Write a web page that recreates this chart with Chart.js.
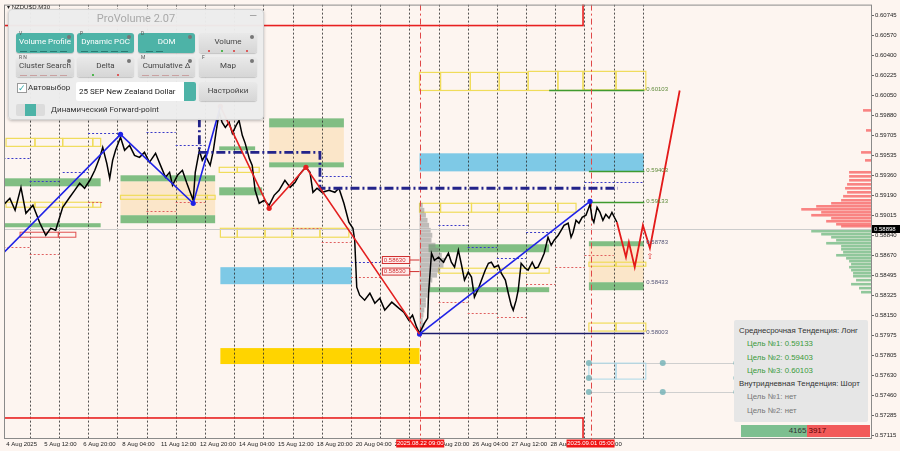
<!DOCTYPE html>
<html><head><meta charset="utf-8">
<script src="https://cdn.jsdelivr.net/npm/chart.js@4.4.1/dist/chart.umd.min.js"></script>
<style>
html,body{margin:0;padding:0;background:#fdf5f0;}
#wrap{position:relative;width:900px;height:451px;overflow:hidden;background:#fdf5f0;}
canvas{position:absolute;left:0;top:0;}
#pv{position:absolute;left:8px;top:9px;width:254px;height:109px;background:rgba(236,236,236,0.97);border:1px solid #d4d4d4;border-radius:4px;box-shadow:0 1px 3px rgba(0,0,0,0.25);font-family:Roboto,"Liberation Sans",sans-serif;}
#pv .ttl{position:absolute;left:0;right:0;top:2px;text-align:center;font-size:11px;color:#a9a9a9;}
#pv .min{position:absolute;right:6px;top:0px;color:#9a9a9a;font-size:10px;}
.btn{position:absolute;height:20px;border-radius:3px;background:linear-gradient(#e9e9e9,#d6d6d6);color:#444;font-size:8px;text-align:center;line-height:18px;box-shadow:0 1px 1px rgba(0,0,0,.18);}
.btn.on{background:#4db3a7;color:#fff;}
.btn .k{position:absolute;left:3px;top:-4px;font-size:5px;color:#555;line-height:8px;}
.btn .g{position:absolute;right:3px;top:2px;width:4px;height:4px;border-radius:50%;background:#777;}
.btn .ind{position:absolute;left:4px;right:4px;bottom:1px;height:1px;background:repeating-linear-gradient(90deg,#2b7a72 0 7px,transparent 7px 10px);}
.btn .ind.gr{background:repeating-linear-gradient(90deg,#c9a0a0 0 7px,transparent 7px 10px);}
.btn .dots{position:absolute;left:4px;right:4px;bottom:1px;height:2px;display:flex;justify-content:space-around;}
.btn .dots i{width:2px;height:2px;border-radius:1px;background:#d33;}
.btn .dots i.gn{background:#2a2;}
#pv .chk{position:absolute;left:8px;top:73px;width:8px;height:8px;border:1px solid #999;background:#fff;font-size:9px;line-height:8px;color:#3aa;}
#pv .lbl{position:absolute;font-size:8px;color:#333;}
#pv .dd{position:absolute;left:67px;top:72px;width:120px;height:19px;background:#fff;border-radius:2px;font-size:8px;line-height:19px;color:#222;padding-left:3px;box-sizing:border-box;}
#pv .dd .sp{position:absolute;right:0;top:0;width:12px;height:19px;background:#4db3a7;border-radius:0 2px 2px 0;}
#pv .tg{position:absolute;left:7px;top:94px;width:29px;height:12px;border-radius:2px;background:linear-gradient(90deg,#dcdcdc 0 9px,#4db3a7 9px 20px,#dcdcdc 20px);}
#info{position:absolute;left:734px;top:320px;width:134px;height:102px;background:#e6e6e6;border-radius:2px;font-family:"Liberation Sans",Arial,sans-serif;font-size:7.8px;padding-top:4px;box-sizing:border-box;}
#info div{height:13.3px;line-height:13.3px;white-space:nowrap;}
#info .h{color:#333;padding-left:5px;}
#info .gl{color:#3a9a3a;padding-left:13px;}
#info .nl{color:#777;padding-left:13px;}
#vb{position:absolute;left:741px;top:425px;width:129px;height:12px;font-family:"Liberation Sans",Arial,sans-serif;font-size:8px;line-height:12px;display:flex;}
#vb .b{background:#7dbf90;color:#333;text-align:right;padding-right:1px;box-sizing:border-box;}
#vb .s{background:#f25a5a;color:#5a0000;text-align:left;padding-left:1px;box-sizing:border-box;}
</style></head>
<body>
<div id="wrap">
<canvas id="c" width="900" height="451"></canvas>
<div id="pv">
  <div class="ttl">ProVolume 2.07</div><div class="min">—</div>
  <div class="btn on" style="left:7px;top:23px;width:58px">Volume Profile<span class="k">V</span><span class="g"></span><i class="ind"></i></div>
  <div class="btn on" style="left:68px;top:23px;width:57px">Dynamic POC<span class="k">P</span><span class="g"></span><i class="ind"></i></div>
  <div class="btn on" style="left:129px;top:23px;width:57px">DOM<span class="k">D</span><span class="g"></span><i class="ind" style="left:8px;right:30px"></i></div>
  <div class="btn" style="left:190px;top:23px;width:58px">Volume<span class="g"></span><span class="dots"><i></i><i class="gn"></i><i></i><i></i></span></div>
  <div class="btn" style="left:7px;top:47px;width:58px">Cluster Search<span class="k">R N</span><span class="g"></span><i class="ind gr"></i></div>
  <div class="btn" style="left:68px;top:47px;width:57px">Delta<span class="g"></span><span class="dots"><i class="gn"></i><i></i></span></div>
  <div class="btn" style="left:129px;top:47px;width:57px">Cumulative Δ<span class="k">M</span><span class="g"></span><i class="ind gr"></i></div>
  <div class="btn" style="left:190px;top:47px;width:58px">Map<span class="k">F</span><span class="g"></span></div>
  <div class="chk">✓</div><div class="lbl" style="left:19px;top:73px">Автовыбор</div>
  <div class="dd">25 SEP New Zealand Dollar<span class="sp"></span></div>
  <div class="btn" style="left:190px;top:72px;width:58px;height:19px">Настройки</div>
  <div class="tg"></div><div class="lbl" style="left:42px;top:95px">Динамический Forward-point</div>
</div>
<div id="info"></div>
<div id="vb"></div>
</div>
<script>
// ---------- DATA ----------
const xTickDays = [0.2, 1.5, 2.833, 4.167, 5.5, 6.833, 8.167, 9.5, 10.833, 12.167, 13.5, 14.833, 16.167, 17.5, 18.833, 20.167];
const xTickLabels = ['4 Aug 2025','5 Aug 12:00','6 Aug 20:00','8 Aug 04:00','11 Aug 12:00','12 Aug 20:00','14 Aug 04:00','15 Aug 12:00','18 Aug 20:00','20 Aug 04:00','21 Aug 12:00','22 Aug 20:00','26 Aug 04:00','27 Aug 12:00','28 Aug 20:00','1 Sep 04:00'];
const yTickValues = [0.60745,0.60570,0.60400,0.60225,0.60050,0.59880,0.59705,0.59535,0.59360,0.59190,0.59015,0.58840,0.58670,0.58495,0.58325,0.58150,0.57975,0.57805,0.57630,0.57460,0.57285,0.57115];
const daySeparators = [1,2,3,4,5,6,7,8,9,10,11,12,13,14,15,16,17,18,19,20,21,22];
const markerDays = [14.375, 20.208];
const markerLabels = ['2025.08.22 09:00','2025.09.01 05:00'];
const currentPrice = 0.58898;

const priceDay = [0.09,0.32,0.50,0.70,0.87,1.11,1.35,1.55,1.72,1.89,
2.13,2.37,2.54,2.71,2.88,3.06,3.23,3.40,3.50,3.64,
3.74,3.84,3.94,4.11,4.25,4.42,4.59,4.76,4.93,5.10,
5.31,5.48,5.65,5.79,5.89,6.06,6.23,6.37,6.47,6.60,
6.67,6.81,6.91,7.01,7.18,7.29,7.39,7.49,7.59,7.70,
7.83,7.94,8.07,8.17,8.28,8.38,8.52,8.62,8.72,8.86,
9.03,9.20,9.37,9.54,9.74,9.92,10.09,10.22,10.36,10.46,
10.60,10.70,10.84,11.01,11.25,11.45,11.59,11.76,11.93,12.07,
12.13,12.20,12.30,12.47,12.65,12.82,12.99,13.16,13.40,13.64,
13.81,13.98,14.11,14.25,14.35,14.52,14.63,14.66,14.76,14.86,
15.00,15.17,15.34,15.44,15.55,15.68,15.79,15.89,16.02,16.13,
16.23,16.37,16.47,16.60,16.71,16.81,16.91,17.05,17.15,17.29,
17.39,17.49,17.56,17.66,17.73,17.83,17.97,18.07,18.21,18.31,
18.41,18.52,18.62,18.75,18.86,18.96,19.10,19.20,19.30,19.44,
19.54,19.61,19.71,19.81,19.92,20.05,20.19,20.26,20.32,20.43,
20.53,20.63,20.73,20.84,20.94,21.04,21.11];
const priceClose = [0.59103,0.59163,0.59060,0.59258,0.59034,0.59103,0.58948,0.58844,0.58904,0.58887,
0.59086,0.59172,0.59232,0.59293,0.59250,0.59319,0.59405,0.59517,0.59603,0.59465,
0.59336,0.59491,0.59578,0.59690,0.59578,0.59621,0.59534,0.59517,0.59560,0.59474,
0.59552,0.59448,0.59345,0.59388,0.59276,0.59362,0.59405,0.59301,0.59232,0.59146,
0.59388,0.59578,0.59491,0.59534,0.59448,0.59578,0.59750,0.59905,0.59819,0.59776,
0.59819,0.59724,0.59793,0.59836,0.59707,0.59638,0.59508,0.59448,0.59232,0.59120,
0.59146,0.59103,0.59189,0.59232,0.59319,0.59258,0.59301,0.59362,0.59405,0.59431,
0.59388,0.59215,0.59250,0.59215,0.59232,0.59215,0.59250,0.59120,0.58956,0.58904,
0.58801,0.58395,0.58326,0.58283,0.58343,0.58257,0.58300,0.58197,0.58266,0.58214,
0.58179,0.58110,0.58154,0.58050,0.57998,0.58085,0.58128,0.58343,0.58689,0.58628,
0.58654,0.58611,0.58689,0.58611,0.58568,0.58715,0.58585,0.58456,0.58525,0.58482,
0.58309,0.58387,0.58456,0.58542,0.58602,0.58611,0.58568,0.58585,0.58516,0.58456,
0.58343,0.58240,0.58197,0.58283,0.58369,0.58602,0.58559,0.58542,0.58611,0.58559,
0.58568,0.58628,0.58689,0.58827,0.58758,0.58801,0.58844,0.58887,0.58930,0.58948,
0.58827,0.58870,0.58973,0.58948,0.58999,0.59017,0.59112,0.58991,0.58956,0.59086,
0.59042,0.58973,0.59025,0.58991,0.59042,0.58991,0.58956];

const zzDaysA = [0.09, 4.11, 6.60, 7.53];
const zzPricesA = [0.58689, 0.59716, 0.59120, 0.59957];
const zzDaysB = [7.53, 9.20, 10.46, 14.35];
const zzPricesB = [0.59957, 0.59077, 0.59431, 0.57990];
const zzDaysC = [14.35, 20.19];
const zzPricesC = [0.57990, 0.59137];
const projDays = [21.11, 21.42, 21.52, 21.72, 22.00, 22.24, 23.26];
const projPrices = [0.58956, 0.58654, 0.58784, 0.58568, 0.58930, 0.58732, 0.60095];
const navyDays = [6.81, 6.81, 10.94, 10.94, 21.14];
const navyPrices = [0.59854, 0.59560, 0.59560, 0.59250, 0.59250];

// zones: [dayStart, dayEnd, priceTop, priceBottom]
const greenZones = [[-0.5,3.43,0.59336,0.59267],[-0.5,3.43,0.58948,0.58913],[4.11,7.35,0.59362,0.59310],[4.11,7.35,0.59017,0.58948],
[7.49,8.96,0.59258,0.59189],[7.49,8.72,0.59612,0.59578],[9.2,11.76,0.59854,0.59776],[9.2,11.76,0.59474,0.59431],
[14.66,18.79,0.58766,0.58697],[14.66,18.79,0.58395,0.58352],[20.15,22.03,0.58792,0.58749],[20.15,22.03,0.58438,0.58369]];
const peachZones = [[4.11,7.35,0.59310,0.59017],[9.2,11.76,0.59776,0.59474],[20.15,22.03,0.58749,0.58438]];
const blueZones = [[7.53,12.03,0.58568,0.58421],[14.35,22.03,0.59552,0.59396]];
const goldZones = [[7.53,14.35,0.57869,0.57731]];
const yellowBoxes = [
[0.19,1.18,0.59681,0.59612],[1.18,2.13,0.59681,0.59612],[2.13,3.16,0.59681,0.59612],[3.16,3.43,0.59681,0.59612],
[0.19,1.18,0.59129,0.59086],[1.18,2.13,0.59129,0.59086],[2.13,3.16,0.59129,0.59086],[3.16,3.43,0.59129,0.59086],
[4.11,6.06,0.59189,0.59155],[6.06,7.08,0.59189,0.59155],[7.08,7.35,0.59189,0.59155],
[7.49,8.11,0.59431,0.59387],[8.11,8.86,0.59431,0.59387],
[7.53,8.11,0.58904,0.58827],[8.11,9.06,0.58904,0.58827],[9.06,9.98,0.58904,0.58827],[9.98,10.94,0.58904,0.58827],[10.94,11.93,0.58904,0.58827],
[14.35,15.07,0.60251,0.60095],[15.07,16.09,0.60251,0.60095],[16.09,17.08,0.60251,0.60095],[17.08,18.07,0.60251,0.60095],[18.07,19.09,0.60260,0.60095],[19.09,19.95,0.60260,0.60095],[19.95,21.08,0.60260,0.60100],[21.08,22.1,0.60260,0.60100],
[14.35,15.07,0.59120,0.59043],[15.07,16.13,0.59120,0.59043],[16.13,17.08,0.59120,0.59043],[17.08,18.07,0.59120,0.59043],[18.07,19.09,0.59120,0.59043],[19.09,19.71,0.59120,0.59043],
[15.0,18.79,0.58559,0.58516],
[20.15,21.08,0.58611,0.58576],[21.08,22.1,0.58611,0.58576],
[20.15,21.08,0.58085,0.58016],[21.08,22.1,0.58085,0.58016]];
const redBoxes = [[0.67,1.98,0.58870,0.58827],[1.98,2.58,0.58870,0.58827]];
// short dashed levels: [dayStart, dayEnd, price]
const blueDash = [[0.1,1,0.59508],[1,2,0.59310],[2.13,3,0.59388],[3,4,0.59724],[5,6,0.59733],[6,7,0.59621],[11,12,0.59353],[12,13,0.58611],[15,16,0.58930],[16,17,0.58740],[17,18,0.58645],[18,19,0.58870],[20,22,0.59301]];
const redDash = [[0.1,1,0.58740],[1,2,0.58680],[3,3.5,0.59129],[5,6,0.59051],[6,7,0.59129],[10,11,0.58904],[11,12,0.58784],[12,13,0.58482],[15,16,0.58266],[16,17,0.58171],[17,18,0.58136],[18,19,0.58421],[19,20,0.58568],[20,21,0.58672]];
// red frame rectangles [dayStart, dayEnd, priceTop, priceBottom]
const frameRects = [[-1,19.95,0.6100,0.60656],[-1,19.95,0.57265,0.5600]];
// target levels
const targetLevels = [0.60103, 0.59403, 0.59133, 0.58783, 0.58433, 0.58003];
const targetLineStart = [18.79, 20.15, 20.15, null, null, 14.35];
const targetEndDay = 22.05;
const redTagPrices = [0.58630, 0.58530];
const redTagDays = [13.06, 14.0];
// volume profile (gray, at 22 Aug)
const vpStartDay = 14.35;
const vpPrice = [0.59103,0.59060,0.59017,0.58973,0.58930,0.58887,0.58844,0.58801,0.58758,0.58715,0.58671,0.58628,0.58585,0.58542,0.58499,0.58456,0.58412,0.58369,0.58326,0.58283,0.58240,0.58197,0.58154,0.58110,0.58067,0.58024];
const vpVol = [4,6,8,10,12,14,16,15,20,24,28,32,30,26,22,16,14,12,10,8,8,6,5,4,6,4];
// DOM (right edge)
const domAskPrice = [0.59923,0.59750,0.59560,0.59491,0.59388,0.59353,0.59319,0.59284,0.59250,0.59215,0.59181,0.59146,0.59120,0.59094,0.59068,0.59042,0.59017,0.58991,0.58965,0.58939,0.58922];
const domAskVol = [8,5,10,6,22,22,22,24,26,24,28,30,40,55,70,50,60,40,45,35,30];
const domBidPrice = [0.58879,0.58853,0.58827,0.58801,0.58775,0.58749,0.58723,0.58697,0.58671,0.58645,0.58620,0.58594,0.58568,0.58542,0.58516,0.58490,0.58456,0.58421,0.58387,0.58352];
const domBidVol = [60,50,40,35,45,30,30,28,35,25,22,20,22,20,18,18,15,20,12,10];
// cluster markers
const clusterPrices = [0.57739, 0.57489];
const clusterMid = 0.57610;
const clusterDays = [20.15, 22.68, 25.2];
const clusterBoxes = [[20.15,21.08,0.57739,0.57601],[21.08,22.1,0.57739,0.57601]];
const arrowDay = 22.24, arrowPrice = 0.58654;
// info panel
const longTargets = [0.59133, 0.59403, 0.60103];
const buyVolume = 4165, sellVolume = 3917;

// ---------- INFO PANEL ----------
(function(){
  const info = document.getElementById('info');
  let h = '<div class="h">Среднесрочная Тенденция: Лонг</div>';
  longTargets.forEach((t,i)=>{ h += '<div class="gl">Цель №'+(i+1)+': '+t.toFixed(5)+'</div>'; });
  h += '<div class="h">Внутридневная Тенденция: Шорт</div>';
  h += '<div class="nl">Цель №1: нет</div><div class="nl">Цель №2: нет</div>';
  info.innerHTML = h;
  const vb = document.getElementById('vb');
  const tot = buyVolume + sellVolume;
  vb.innerHTML = '<div class="b" style="width:'+(buyVolume/tot*100)+'%">'+buyVolume+'</div><div class="s" style="width:'+(sellVolume/tot*100)+'%">'+sellVolume+'</div>';
})();

// ---------- CHART ----------
const pts = (ds, ps) => ds.map((d,i)=>({x:d, y:ps[i]}));
const AX_FONT = {family:'"Liberation Sans", Arial, sans-serif', size:6};

const overlay = {
  id:'overlay',
  beforeDatasetsDraw(chart){
    const {ctx, chartArea:a, scales:{x,y}} = chart;
    const X = v => x.getPixelForValue(v), Y = v => y.getPixelForValue(v);
    ctx.save();
    ctx.beginPath(); ctx.rect(a.left, a.top, a.right-a.left, a.bottom-a.top); ctx.clip();
    const fillZ = (arr, col) => { ctx.fillStyle = col; arr.forEach(z => ctx.fillRect(X(z[0]), Y(z[2]), X(z[1])-X(z[0]), Y(z[3])-Y(z[2]))); };
    fillZ(peachZones, 'rgba(251,228,196,0.9)');
    fillZ(blueZones, '#7ec9e6');
    fillZ(goldZones, '#ffd400');
    fillZ(greenZones, 'rgba(118,184,122,0.92)');
    // day separators
    ctx.strokeStyle = 'rgba(40,40,40,0.8)'; ctx.lineWidth = 1; ctx.setLineDash([2,2]);
    daySeparators.forEach(d => { const px = Math.round(X(d))+0.5; ctx.beginPath(); ctx.moveTo(px, a.top); ctx.lineTo(px, a.bottom); ctx.stroke(); });
    ctx.setLineDash([]);
    // yellow outline boxes
    ctx.strokeStyle = '#f0dc5a'; ctx.lineWidth = 1.2;
    yellowBoxes.forEach(z => ctx.strokeRect(X(z[0]), Y(z[2]), X(z[1])-X(z[0]), Y(z[3])-Y(z[2])));
    ctx.strokeStyle = '#e05050'; ctx.lineWidth = 1;
    redBoxes.forEach(z => ctx.strokeRect(X(z[0]), Y(z[2]), X(z[1])-X(z[0]), Y(z[3])-Y(z[2])));
    // dashed short levels
    ctx.setLineDash([2,2]); ctx.lineWidth = 1;
    ctx.strokeStyle = '#3a3ac8';
    blueDash.forEach(l => { const py = Math.round(Y(l[2]))+0.5; ctx.beginPath(); ctx.moveTo(X(l[0]), py); ctx.lineTo(X(l[1]), py); ctx.stroke(); });
    ctx.strokeStyle = '#e06060';
    redDash.forEach(l => { const py = Math.round(Y(l[2]))+0.5; ctx.beginPath(); ctx.moveTo(X(l[0]), py); ctx.lineTo(X(l[1]), py); ctx.stroke(); });
    ctx.setLineDash([]);
    // volume profile
    ctx.fillStyle = 'rgba(140,140,140,0.55)';
    const vpUnit = (X(1)-X(0))/29.3;
    vpPrice.forEach((p,i) => { const py = Y(p); ctx.fillRect(X(vpStartDay), py-2.4, vpVol[i]*vpUnit*0.8, 4.8); });
    // DOM histogram on right edge
    ctx.fillStyle = 'rgba(248,110,110,0.85)';
    domAskPrice.forEach((p,i) => { const py = Y(p); ctx.fillRect(a.right - domAskVol[i]*vpUnit, py-1.3, domAskVol[i]*vpUnit, 2.6); });
    ctx.fillStyle = 'rgba(125,190,140,0.85)';
    domBidPrice.forEach((p,i) => { const py = Y(p); ctx.fillRect(a.right - domBidVol[i]*vpUnit, py-1.3, domBidVol[i]*vpUnit, 2.6); });
    // red frame rectangles
    ctx.strokeStyle = '#e82020'; ctx.lineWidth = 1.6;
    frameRects.forEach(z => ctx.strokeRect(X(z[0]), Y(z[2]), X(z[1])-X(z[0]), Y(z[3])-Y(z[2])));
    // cluster lines & boxes
    ctx.strokeStyle = '#cfcfcf'; ctx.lineWidth = 1;
    clusterPrices.forEach(p => { const py = Math.round(Y(p))+0.5; ctx.beginPath(); ctx.moveTo(X(clusterDays[0]), py); ctx.lineTo(X(clusterDays[2]), py); ctx.stroke(); });
    ctx.strokeStyle = '#a9d8e8';
    clusterBoxes.forEach(z => ctx.strokeRect(X(z[0]), Y(z[2]), X(z[1])-X(z[0]), Y(z[3])-Y(z[2])));
    // target lines
    targetLevels.forEach((p,i) => {
      if (targetLineStart[i] === null) return;
      const py = Math.round(Y(p))+0.5;
      ctx.strokeStyle = (p === 0.58003) ? '#1c1c6c' : '#3f9a2f'; ctx.lineWidth = 1.4;
      ctx.beginPath(); ctx.moveTo(X(targetLineStart[i]), py); ctx.lineTo(X(targetEndDay), py); ctx.stroke();
    });
    // red vertical markers
    ctx.strokeStyle = '#e04848'; ctx.lineWidth = 1; ctx.setLineDash([6,3,2,3]);
    markerDays.forEach(d => { const px = Math.round(X(d))+0.5; ctx.beginPath(); ctx.moveTo(px, a.top); ctx.lineTo(px, a.bottom); ctx.stroke(); });
    ctx.setLineDash([]);
    // current price line
    ctx.strokeStyle = '#cccccc'; ctx.lineWidth = 1;
    const cy = Math.round(Y(currentPrice))+0.5;
    ctx.beginPath(); ctx.moveTo(a.left, cy); ctx.lineTo(a.right, cy); ctx.stroke();
    ctx.restore();
  },
  afterDatasetsDraw(chart){
    const {ctx, chartArea:a, scales:{x,y}} = chart;
    const X = v => x.getPixelForValue(v), Y = v => y.getPixelForValue(v);
    ctx.save();
    ctx.font = '6px "Liberation Sans", Arial, sans-serif';
    ctx.textBaseline = 'middle';
    targetLevels.forEach((p,i) => {
      ctx.fillStyle = i < 3 ? '#5f8a3a' : '#555577';
      ctx.fillText(p.toFixed(5), X(targetEndDay)+2, Y(p));
    });
    // red price tags
    redTagPrices.forEach(p => {
      const x0 = X(redTagDays[0]), x1 = X(redTagDays[1]), py = Y(p);
      ctx.fillStyle = 'rgba(255,235,235,0.9)'; ctx.fillRect(x0, py-3.5, x1-x0, 7);
      ctx.strokeStyle = '#d03030'; ctx.lineWidth = 1; ctx.strokeRect(x0+0.5, py-3.5, x1-x0, 7);
      ctx.beginPath(); ctx.moveTo(x1, py); ctx.lineTo(X(vpStartDay), py); ctx.stroke();
      ctx.fillStyle = '#d03030'; ctx.fillText(p.toFixed(5), x0+2, py);
    });
    // cluster dots
    ctx.fillStyle = 'rgba(120,180,185,0.85)';
    const dot = (d,p) => { ctx.beginPath(); ctx.arc(X(d), Y(p), 3, 0, Math.PI*2); ctx.fill(); };
    clusterDays.forEach(d => clusterPrices.forEach(p => dot(d,p)));
    dot(clusterDays[0], clusterMid); dot(clusterDays[2], clusterMid);
    // arrow
    ctx.fillStyle = '#e03030'; ctx.font = '8px "DejaVu Sans", sans-serif'; ctx.textAlign = 'center';
    ctx.fillText('⇧', X(arrowDay), Y(arrowPrice));
    ctx.restore();
  },
  afterDraw(chart){
    const {ctx, chartArea:a, scales:{x,y}} = chart;
    const X = v => x.getPixelForValue(v), Y = v => y.getPixelForValue(v);
    ctx.save();
    ctx.strokeStyle = '#8a8a8a'; ctx.lineWidth = 1;
    ctx.strokeRect(a.left+0.5, a.top+0.5, a.right-a.left, a.bottom-a.top);
    ctx.font = '6px "Liberation Sans", Arial, sans-serif';
    ctx.textBaseline = 'middle';
    // date marker boxes
    markerDays.forEach((d,i) => {
      const cx = X(d);
      ctx.fillStyle = '#f01515'; ctx.fillRect(cx-24, a.bottom+1.5, 48, 8);
      ctx.fillStyle = '#fff'; ctx.textAlign = 'center'; ctx.fillText(markerLabels[i], cx, a.bottom+5.8);
      ctx.strokeStyle = '#e04848'; ctx.beginPath(); ctx.moveTo(Math.round(cx)+0.5, a.bottom); ctx.lineTo(Math.round(cx)+0.5, a.bottom+2); ctx.stroke();
    });
    // current price box
    const cy = Y(currentPrice);
    ctx.fillStyle = '#000'; ctx.fillRect(a.right+1, cy-4, 28, 8);
    ctx.fillStyle = '#fff'; ctx.textAlign = 'left'; ctx.fillText(currentPrice.toFixed(5), a.right+3, cy+0.3);
    // symbol title
    ctx.fillStyle = '#222'; ctx.fillText('▾ NZDUSD,M30', a.left+3, a.top+3);
    ctx.restore();
  }
};

new Chart(document.getElementById('c'), {
  type: 'line',
  data: { datasets: [
    { data: pts(projDays, projPrices), borderColor:'#e31a1a', borderWidth:1.8, pointRadius:0, order:1 },
    { data: pts(zzDaysA, zzPricesA), borderColor:'#1f22e6', borderWidth:1.6, pointRadius:[0,2.6,2.6,0], pointBackgroundColor:'#1f22e6', pointBorderWidth:0, order:2 },
    { data: pts(zzDaysB, zzPricesB), borderColor:'#e32020', borderWidth:1.6, pointRadius:[2.6,2.6,2.6,0], pointBackgroundColor:'#e32020', pointBorderWidth:0, order:2 },
    { data: pts(zzDaysC, zzPricesC), borderColor:'#1f22e6', borderWidth:1.6, pointRadius:[2.6,2.6], pointBackgroundColor:'#1f22e6', pointBorderWidth:0, order:2 },
    { data: pts(navyDays, navyPrices), borderColor:'#23238a', borderWidth:2.8, borderDash:[9,3,2,3], pointRadius:0, order:8 },
    { data: pts(priceDay, priceClose), borderColor:'#000', borderWidth:1.5, pointRadius:0, order:10 }
  ]},
  options: {
    responsive:false, animation:false, events:[],
    layout:{ padding:{ left:1, top:4, right:0, bottom:0 } },
    plugins:{ legend:{display:false}, tooltip:{enabled:false} },
    scales:{
      x:{ type:'linear', position:'bottom', min:0.1195, max:29.812,
          grid:{display:false, drawTicks:false}, border:{display:false},
          afterBuildTicks: s => { s.ticks = xTickDays.map(v => ({value:v})); },
          afterFit: s => { s.height = 13; },
          ticks:{ autoSkip:false, maxRotation:0, minRotation:0, align:'start', padding:3, font:AX_FONT, color:'#222',
                  callback:(v,i) => xTickLabels[i] } },
      y:{ type:'linear', position:'right', min:0.57092, max:0.60837,
          grid:{drawOnChartArea:false, drawTicks:true, tickLength:3, color:'#666'}, border:{display:false},
          afterBuildTicks: s => { s.ticks = yTickValues.map(v => ({value:v})); },
          afterFit: s => { s.width = 29; },
          ticks:{ padding:1, font:AX_FONT, color:'#222', callback:(v,i) => yTickValues[i].toFixed(5) } }
    }
  },
  plugins:[overlay]
});
</script>
</body></html>
